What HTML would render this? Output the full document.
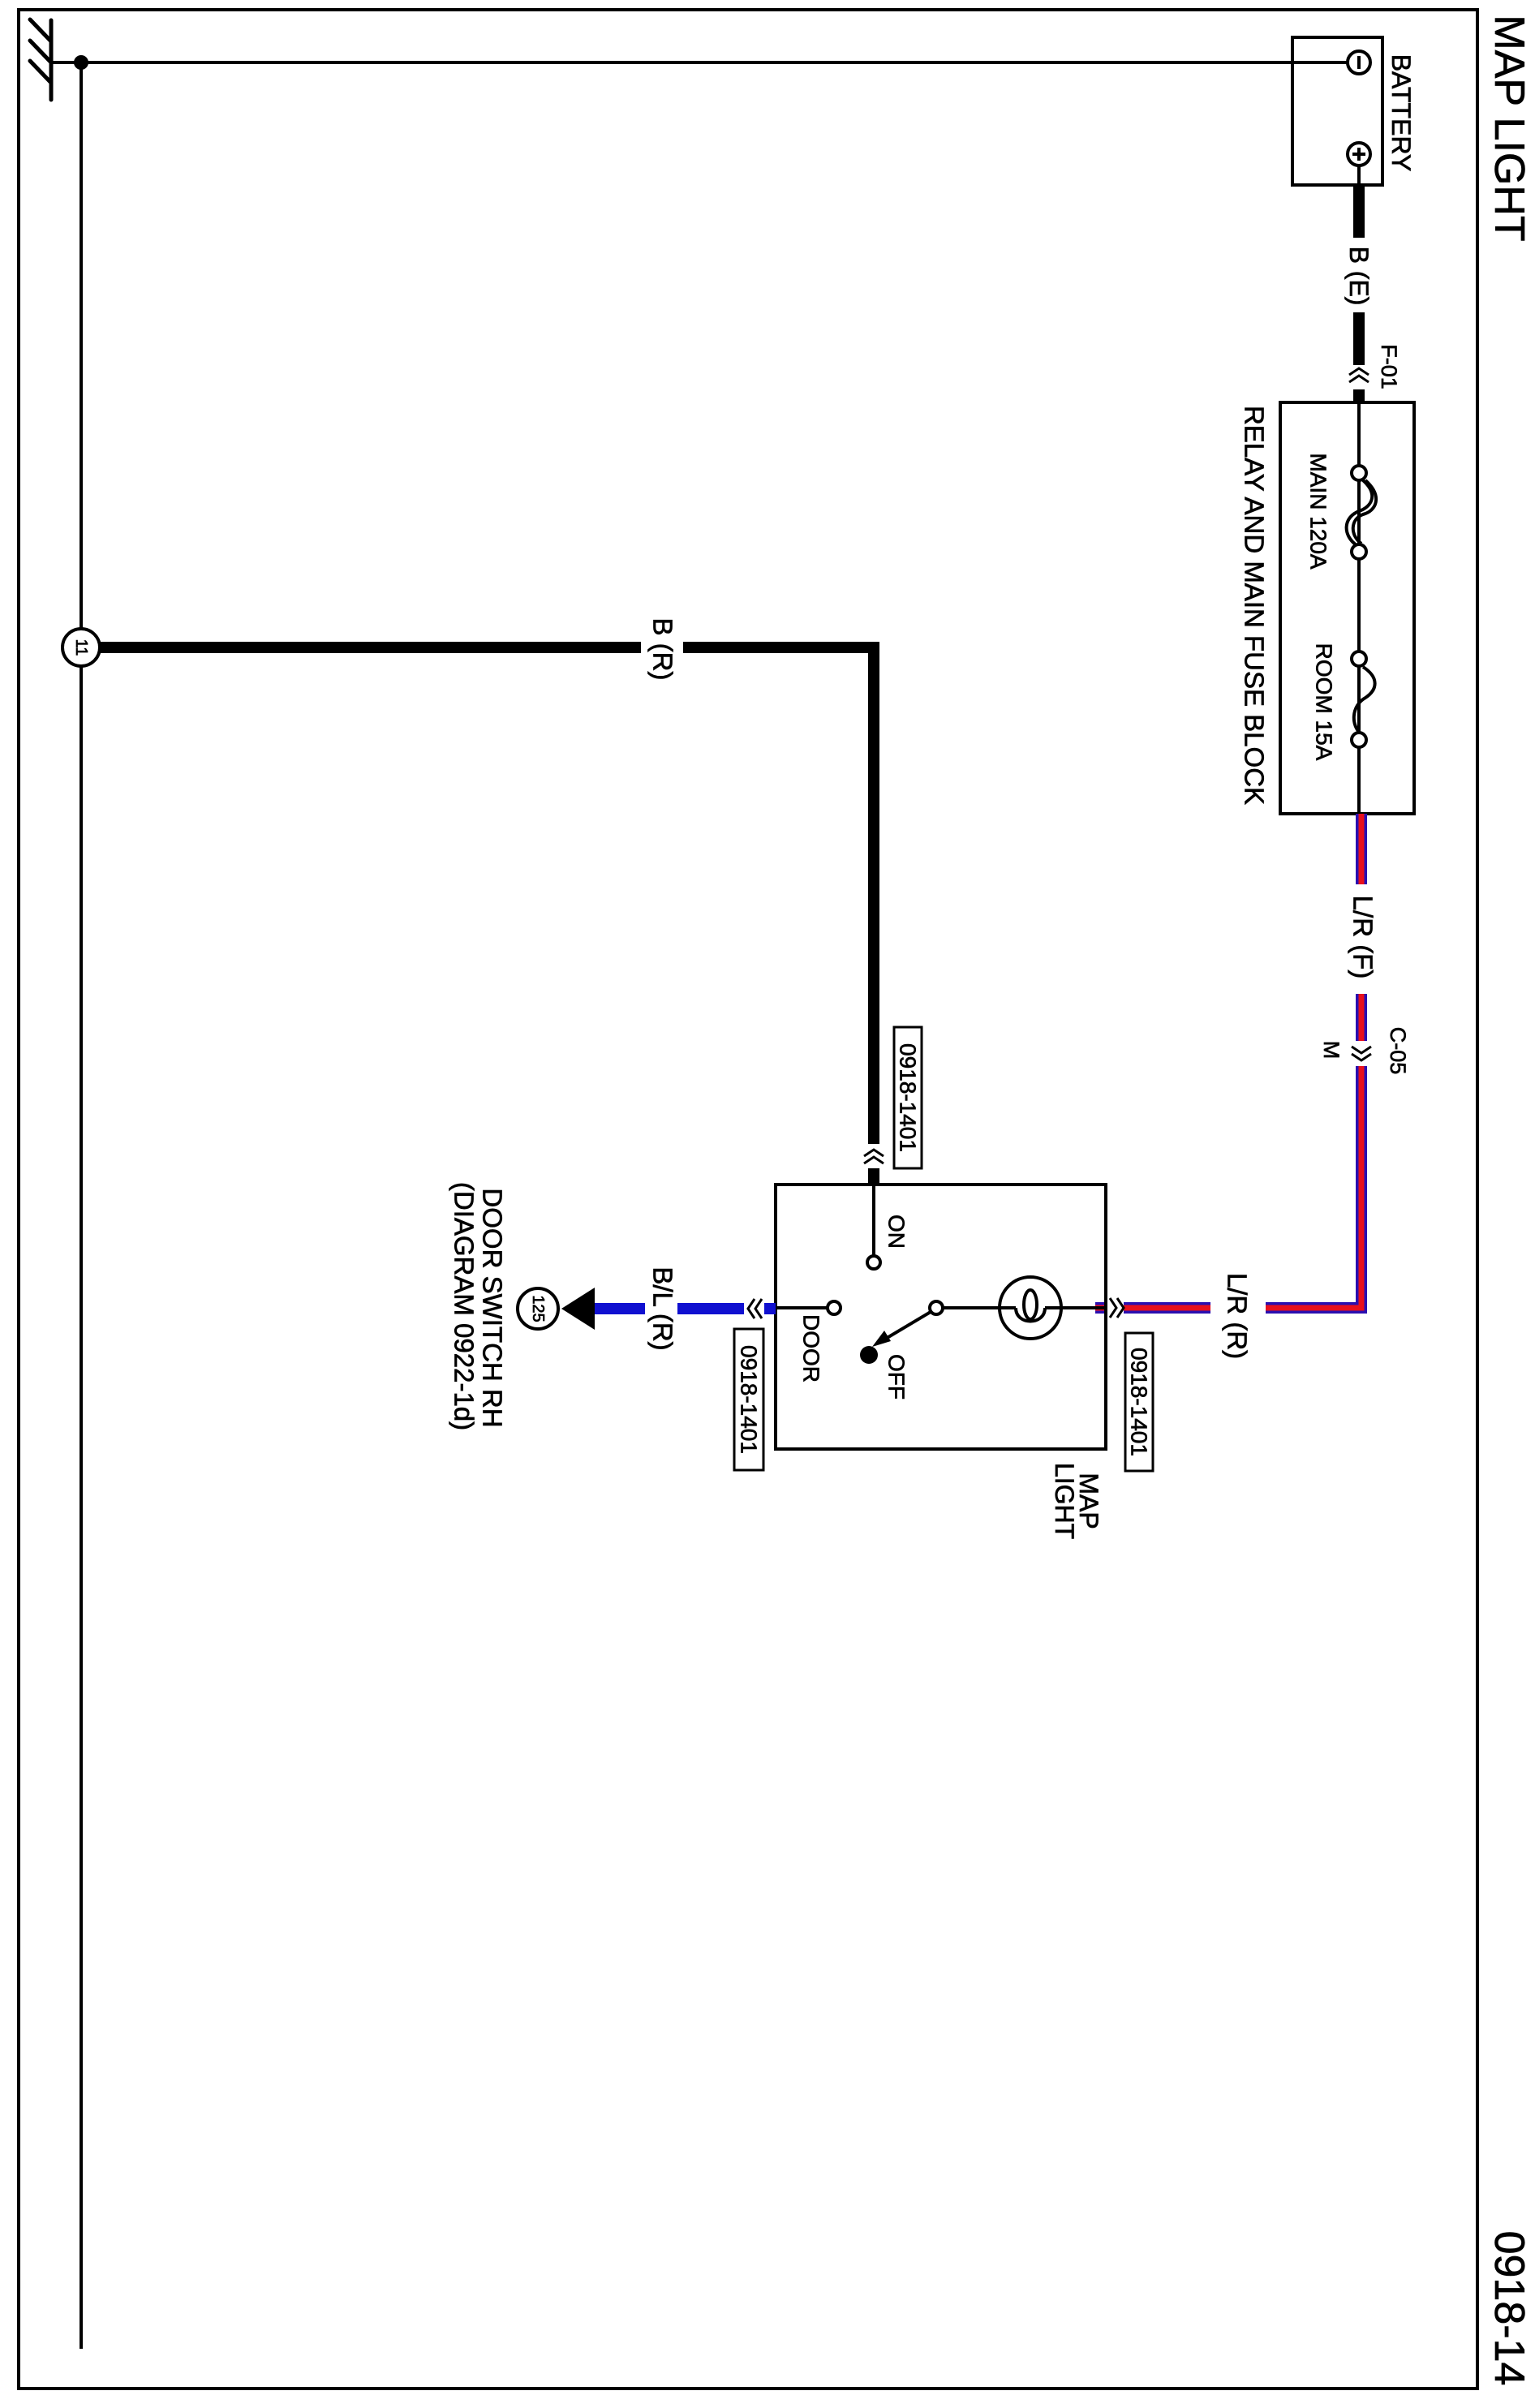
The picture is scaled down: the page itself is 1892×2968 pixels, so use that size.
<!DOCTYPE html>
<html><head><meta charset="utf-8"><style>
html,body{margin:0;padding:0;background:#fff;}
svg{display:block;}
text{font-family:"Liberation Sans",Arial,sans-serif;fill:#000;stroke:#000;stroke-width:0.7;}
</style></head><body>
<svg width="1892" height="2968" viewBox="0 0 1892 2968" xmlns="http://www.w3.org/2000/svg">
<rect x="0" y="0" width="1892" height="2968" fill="#fff"/>
<!-- frame -->
<rect x="23" y="12" width="1798" height="2932" fill="none" stroke="#000" stroke-width="4"/>
<!-- title -->
<text transform="translate(1860,158) rotate(90)" text-anchor="middle" dominant-baseline="central" font-size="52">MAP LIGHT</text>
<text transform="translate(1860,2845) rotate(90)" text-anchor="middle" dominant-baseline="central" font-size="52">0918-14</text>

<!-- ground symbol -->
<g stroke="#000" stroke-width="5" stroke-linecap="round">
<line x1="63" y1="25" x2="63" y2="123"/>
<line x1="37" y1="24" x2="62" y2="50"/>
<line x1="37" y1="50" x2="62" y2="76"/>
<line x1="37" y1="75" x2="62" y2="101"/>
</g>
<line x1="63" y1="77" x2="1662" y2="77" stroke="#000" stroke-width="4"/>
<circle cx="100" cy="77" r="9" fill="#000"/>
<line x1="100" y1="77" x2="100" y2="2895" stroke="#000" stroke-width="4"/>

<!-- battery -->
<rect x="1593" y="46" width="111" height="182" fill="none" stroke="#000" stroke-width="4"/>
<circle cx="1675" cy="77" r="14" fill="#fff" stroke="#000" stroke-width="4"/>
<line x1="1675" y1="69" x2="1675" y2="85" stroke="#000" stroke-width="4"/>
<circle cx="1675" cy="190" r="14" fill="#fff" stroke="#000" stroke-width="4"/>
<line x1="1675" y1="182" x2="1675" y2="198" stroke="#000" stroke-width="4"/>
<line x1="1667" y1="190" x2="1683" y2="190" stroke="#000" stroke-width="4"/>
<line x1="1675" y1="204" x2="1675" y2="228" stroke="#000" stroke-width="4"/>
<text transform="translate(1727,139) rotate(90)" text-anchor="middle" dominant-baseline="central" font-size="32">BATTERY</text>

<!-- B(E) wire -->
<g stroke="#000" stroke-width="14">
<line x1="1675" y1="228" x2="1675" y2="293"/>
<line x1="1675" y1="385" x2="1675" y2="450"/>
<line x1="1675" y1="480" x2="1675" y2="496"/>
</g>
<text transform="translate(1675,340) rotate(90)" text-anchor="middle" dominant-baseline="central" font-size="32">B (E)</text>
<g fill="none" stroke="#000" stroke-width="3">
<polyline points="1663,462 1675,454 1687,462"/>
<polyline points="1663,471 1675,463 1687,471"/>
</g>
<text transform="translate(1712,452) rotate(90)" text-anchor="middle" dominant-baseline="central" font-size="27">F-01</text>

<!-- fuse block -->
<rect x="1578" y="496" width="165" height="507" fill="none" stroke="#000" stroke-width="4"/>
<line x1="1675" y1="496" x2="1675" y2="1003" stroke="#000" stroke-width="4"/>
<g fill="none" stroke="#000" stroke-width="4">
<path d="M1680,592 C1700,610 1690,625 1675,630 C1655,638 1655,660 1672,672"/>
<path d="M1683,592 C1705,612 1696,630 1680,634 C1664,640 1664,660 1678,670"/>
<path d="M1680,822 C1700,835 1698,850 1683,860 C1665,870 1665,895 1678,905"/>
</g>
<g fill="#fff" stroke="#000" stroke-width="4">
<circle cx="1675" cy="583" r="9"/>
<circle cx="1675" cy="680" r="9"/>
<circle cx="1675" cy="812" r="9"/>
<circle cx="1675" cy="912" r="9"/>
</g>
<text transform="translate(1625,630) rotate(90)" text-anchor="middle" dominant-baseline="central" font-size="28">MAIN 120A</text>
<text transform="translate(1632,865) rotate(90)" text-anchor="middle" dominant-baseline="central" font-size="28">ROOM 15A</text>
<text transform="translate(1546,746) rotate(90)" text-anchor="middle" dominant-baseline="central" font-size="33">RELAY AND MAIN FUSE BLOCK</text>

<!-- L/R wire -->
<g fill="none" stroke-linejoin="miter">
<g stroke="#2a0fb0" stroke-width="14">
<line x1="1678" y1="1003" x2="1678" y2="1090"/>
<line x1="1678" y1="1225" x2="1678" y2="1283"/>
<polyline points="1678,1314 1678,1612 1560,1612"/>
<line x1="1492" y1="1612" x2="1385" y2="1612"/>
<line x1="1350" y1="1612" x2="1363" y2="1612"/>
</g>
<g stroke="#e8101c" stroke-width="7">
<line x1="1678" y1="1003" x2="1678" y2="1090"/>
<line x1="1678" y1="1225" x2="1678" y2="1283"/>
<polyline points="1678,1314 1678,1612 1560,1612"/>
<line x1="1492" y1="1612" x2="1385" y2="1612"/>
<line x1="1350" y1="1612" x2="1363" y2="1612"/>
</g>
</g>
<text transform="translate(1680,1155) rotate(90)" text-anchor="middle" dominant-baseline="central" font-size="33">L/R (F)</text>
<g fill="none" stroke="#000" stroke-width="3">
<polyline points="1666,1290 1678,1298 1690,1290"/>
<polyline points="1666,1299 1678,1307 1690,1299"/>
</g>
<text transform="translate(1723,1295) rotate(90)" text-anchor="middle" dominant-baseline="central" font-size="27">C-05</text>
<text transform="translate(1641,1294) rotate(90)" text-anchor="middle" dominant-baseline="central" font-size="27">M</text>
<text transform="translate(1525,1622) rotate(90)" text-anchor="middle" dominant-baseline="central" font-size="33">L/R (R)</text>
<g fill="none" stroke="#000" stroke-width="3">
<polyline points="1368,1600 1376,1612 1368,1624"/>
<polyline points="1377,1600 1385,1612 1377,1624"/>
</g>

<!-- B(R) black wire -->
<g stroke="#000" stroke-width="14" fill="none">
<line x1="122" y1="798" x2="790" y2="798"/>
<polyline points="842,798 1077,798 1077,1410"/>
<line x1="1077" y1="1440" x2="1077" y2="1460"/>
</g>
<text transform="translate(817,800) rotate(90)" text-anchor="middle" dominant-baseline="central" font-size="33">B (R)</text>
<g fill="none" stroke="#000" stroke-width="3">
<polyline points="1065,1425 1077,1417 1089,1425"/>
<polyline points="1065,1434 1077,1426 1089,1434"/>
</g>
<circle cx="100" cy="798" r="23" fill="#fff" stroke="#000" stroke-width="4"/>
<text transform="translate(100,798) rotate(90)" text-anchor="middle" dominant-baseline="central" font-size="20">11</text>

<rect x="1102" y="1266" width="34" height="174" fill="#fff" stroke="#000" stroke-width="3"/>
<text transform="translate(1119,1353) rotate(90)" text-anchor="middle" dominant-baseline="central" font-size="28">0918-1401</text>

<!-- map light box -->
<rect x="956" y="1460" width="407" height="326" fill="none" stroke="#000" stroke-width="4"/>
<line x1="1077" y1="1460" x2="1077" y2="1548" stroke="#000" stroke-width="4"/>
<circle cx="1077" cy="1556" r="8" fill="#fff" stroke="#000" stroke-width="4"/>
<text transform="translate(1105,1518) rotate(90)" text-anchor="middle" dominant-baseline="central" font-size="28">ON</text>
<line x1="956" y1="1612" x2="1020" y2="1612" stroke="#000" stroke-width="4"/>
<circle cx="1028" cy="1612" r="8" fill="#fff" stroke="#000" stroke-width="4"/>
<text transform="translate(1000,1662) rotate(90)" text-anchor="middle" dominant-baseline="central" font-size="28">DOOR</text>
<line x1="1162" y1="1612" x2="1232" y2="1612" stroke="#000" stroke-width="4"/>
<line x1="1308" y1="1612" x2="1363" y2="1612" stroke="#000" stroke-width="4"/>
<circle cx="1154" cy="1612" r="8" fill="#fff" stroke="#000" stroke-width="4"/>
<circle cx="1270" cy="1612" r="38" fill="none" stroke="#000" stroke-width="4"/>
<line x1="1232" y1="1612" x2="1252" y2="1612" stroke="#000" stroke-width="4"/>
<line x1="1288" y1="1612" x2="1308" y2="1612" stroke="#000" stroke-width="4"/>
<path d="M1252,1612 C1252,1634 1288,1634 1288,1612" fill="none" stroke="#000" stroke-width="4"/>
<ellipse cx="1270" cy="1608" rx="8" ry="18" fill="none" stroke="#000" stroke-width="4"/>
<line x1="1147" y1="1617" x2="1090" y2="1651" stroke="#000" stroke-width="4"/>
<polygon points="1075,1660 1090,1640 1098,1653" fill="#000"/>
<circle cx="1071" cy="1670" r="11" fill="#000"/>
<text transform="translate(1105,1697) rotate(90)" text-anchor="middle" dominant-baseline="central" font-size="28">OFF</text>

<rect x="1387" y="1643" width="34" height="170" fill="#fff" stroke="#000" stroke-width="3"/>
<text transform="translate(1404,1728) rotate(90)" text-anchor="middle" dominant-baseline="central" font-size="28">0918-1401</text>
<text transform="translate(1342,1850) rotate(90)" text-anchor="middle" dominant-baseline="central" font-size="32">MAP</text>
<text transform="translate(1312,1850) rotate(90)" text-anchor="middle" dominant-baseline="central" font-size="32">LIGHT</text>

<!-- door wire -->
<g stroke="#1010d0" stroke-width="14">
<line x1="942" y1="1613" x2="956" y2="1613"/>
<line x1="835" y1="1613" x2="917" y2="1613"/>
<line x1="730" y1="1613" x2="795" y2="1613"/>
</g>
<g fill="none" stroke="#000" stroke-width="3">
<polyline points="930,1601 922,1613 930,1625"/>
<polyline points="939,1601 931,1613 939,1625"/>
</g>
<text transform="translate(817,1613) rotate(90)" text-anchor="middle" dominant-baseline="central" font-size="33">B/L (R)</text>
<polygon points="733,1587 733,1639 692,1613" fill="#000"/>
<circle cx="663" cy="1613" r="25" fill="#fff" stroke="#000" stroke-width="4"/>
<text transform="translate(663,1613) rotate(90)" text-anchor="middle" dominant-baseline="central" font-size="20">125</text>
<rect x="905" y="1638" width="36" height="174" fill="#fff" stroke="#000" stroke-width="3"/>
<text transform="translate(923,1725) rotate(90)" text-anchor="middle" dominant-baseline="central" font-size="28">0918-1401</text>
<text transform="translate(607,1612) rotate(90)" text-anchor="middle" dominant-baseline="central" font-size="33">DOOR SWITCH RH</text>
<text transform="translate(572,1610) rotate(90)" text-anchor="middle" dominant-baseline="central" font-size="33">(DIAGRAM 0922-1d)</text>
</svg>
</body></html>
